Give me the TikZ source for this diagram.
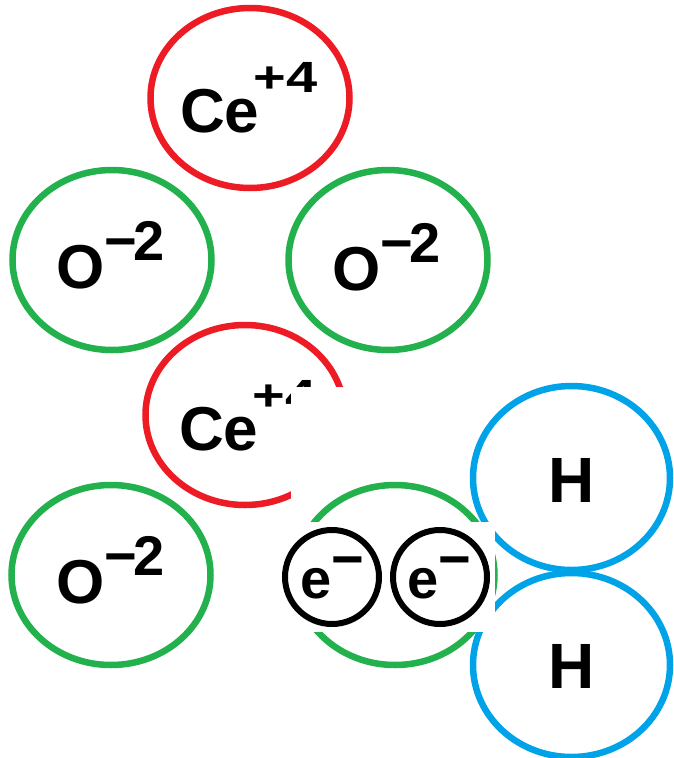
\documentclass[tikz,border=0pt]{standalone}
\usepackage{fontspec}
\setmainfont{Liberation Sans}
\usetikzlibrary{shapes.geometric}
\definecolor{cered}{HTML}{ED1C24}
\definecolor{ogreen}{HTML}{22B14C}
\definecolor{hblue}{HTML}{00A2E8}
\newcommand{\bigtxt}{\fontsize{62}{62}\selectfont\bfseries}
\newcommand{\suptxt}{\fontsize{56}{56}\selectfont\bfseries}
\newcommand{\cesup}{\raisebox{40pt}{\scalebox{1}[0.78]{\suptxt +4}}}
\newcommand{\osup}{\raisebox{28pt}{\suptxt −\kern-4pt2}}
\begin{document}
\begin{tikzpicture}[x=1pt,y=-1pt,
  ion/.style={ellipse, draw, line width=6.5pt, inner sep=0pt, minimum width=199pt, minimum height=180pt},
  hion/.style={ellipse, draw=hblue, line width=6.5pt, inner sep=0pt, minimum width=197pt, minimum height=184pt},
  elec/.style={circle, draw=black, line width=6pt, inner sep=0pt, minimum size=94pt},
  lbl/.style={anchor=base west, inner sep=0pt, text=black},
  mask/.style={fill=white, draw=none}]
\useasboundingbox (0,0) rectangle (674,758);
% back layer
\node[ion, draw=cered]  (ce1) at (250,98) {};
\node[ion, draw=ogreen] (otl) at (112,260) {};
\node[ion, draw=ogreen] (otr) at (388,260) {};
\node[ion, draw=ogreen] (obl) at (111,575) {};
\node[ion, draw=cered]  (ce2) at (245,415) {};
\node[lbl] (ce1t) at (180,132) {\bigtxt Ce\kern-6pt\cesup};
\node[lbl] (ce2t) at (179,450) {\bigtxt Ce\kern-6pt\cesup};
\node[lbl] (otlt) at (56,288) {\bigtxt O\osup};
\node[lbl] (otrt) at (332,290) {\bigtxt O\osup};
\node[lbl] (oblt) at (56,603) {\bigtxt O\osup};
% white patch hiding part of the lower Ce
\fill[mask] (291,387) rectangle (674,758);
% lower right oxygen and hydrogen
\node[ion, draw=ogreen] (obr) at (395,575) {};
\node[hion] (ht) at (571.5,478) {};
\node[hion] (hb) at (571.5,665) {};
\node[anchor=base, inner sep=0pt] (htt) at (571.5,502) {\fontsize{64}{64}\selectfont\bfseries H};
\node[anchor=base, inner sep=0pt] (hbt) at (571.5,688) {\fontsize{64}{64}\selectfont\bfseries H};
% electrons on a white patch
\fill[mask] (275,522) rectangle (495,632);
\node[elec] (e1) at (332,577) {};
\node[elec] (e2) at (440,577) {};
\node[lbl] (e1t) at (300,598) {\suptxt e\raisebox{20pt}{\suptxt −}};
\node[lbl] (e2t) at (407,598) {\suptxt e\raisebox{20pt}{\suptxt −}};
\end{tikzpicture}
\end{document}
